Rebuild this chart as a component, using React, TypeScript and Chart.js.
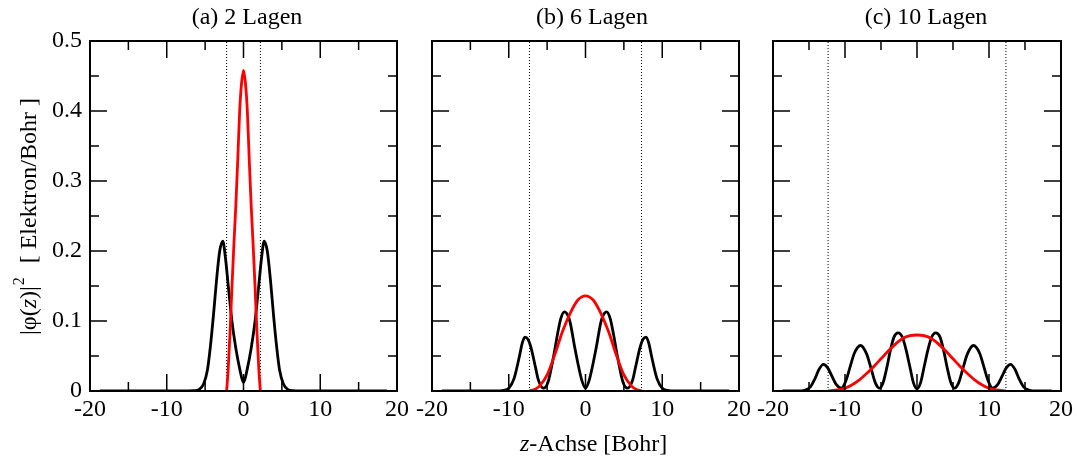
import React, { useEffect, useRef } from "react";
import { Chart, registerables } from "chart.js";

Chart.register(...registerables);

// ---------- data ----------
const xTickLabels = [-20, -10, 0, 10, 20];
const yTickLabels = [0, 0.1, 0.2, 0.3, 0.4, 0.5];
const xTickMarks = [-20, -15, -10, -5, 0, 5, 10, 15, 20];
const yTickMarks = [0, 0.05, 0.1, 0.15, 0.2, 0.25, 0.3, 0.35, 0.4, 0.45, 0.5];

const panelTitles = ["(a) 2 Lagen", "(b) 6 Lagen", "(c) 10 Lagen"];
const yAxisTitle = ["|φ(", "z", ")|", "2", "[ Elektron/Bohr ]"];
const xAxisTitle = ["z", "-Achse [Bohr]"];

// (a) 2 Lagen
const zBlackA = [-18.7, -12, -8, -6.5, -5.8, -5.2, -4.7, -4.3, -3.9, -3.5, -3.1, -2.7, -2.35, -2.0, -1.5, -1.0, -0.5, 0, 0.5, 1.0, 1.5, 2.0, 2.35, 2.7, 3.1, 3.5, 3.9, 4.3, 4.7, 5.2, 5.8, 6.5, 8, 12, 18.7];
const blackA = [0, 0, 0, 0.0005, 0.002, 0.01, 0.03, 0.065, 0.11, 0.16, 0.2, 0.214, 0.19, 0.152, 0.099, 0.061, 0.032, 0.012, 0.032, 0.061, 0.099, 0.152, 0.19, 0.214, 0.2, 0.16, 0.11, 0.065, 0.03, 0.01, 0.002, 0.0005, 0, 0, 0];
const zRedA = [-2.2, -2.0, -1.75, -1.5, -1.25, -1.0, -0.75, -0.5, -0.25, 0, 0.25, 0.5, 0.75, 1.0, 1.25, 1.5, 1.75, 2.0, 2.2];
const redA = [0, 0.03, 0.085, 0.15, 0.21, 0.265, 0.33, 0.4, 0.44, 0.458, 0.44, 0.4, 0.33, 0.265, 0.21, 0.15, 0.085, 0.03, 0];
const edgesA = [-2.2, 2.2];

// (b) 6 Lagen
const zBlackB = [-18.7, -14, -11.5, -10.7, -10.0, -9.3, -8.6, -8.25, -7.9, -7.5, -7.1, -6.5, -6.15, -5.5, -4.9, -4.2, -3.6, -3.2, -2.75, -2.35, -2.0, -1.4, -1.0, -0.5, 0, 0.5, 1.0, 1.4, 2.0, 2.35, 2.75, 3.2, 3.6, 4.2, 4.9, 5.5, 6.15, 6.5, 7.1, 7.5, 7.9, 8.25, 8.6, 9.3, 10.0, 10.7, 11.5, 14, 18.7];
const blackB = [0, 0, 0, 0.001, 0.004, 0.018, 0.05, 0.068, 0.077, 0.074, 0.062, 0.033, 0.016, 0.004, 0.012, 0.047, 0.084, 0.104, 0.113, 0.109, 0.098, 0.062, 0.04, 0.016, 0.004, 0.016, 0.04, 0.062, 0.098, 0.109, 0.113, 0.104, 0.084, 0.047, 0.012, 0.004, 0.016, 0.033, 0.062, 0.074, 0.077, 0.068, 0.05, 0.018, 0.004, 0.001, 0, 0, 0];
const zRedB = [-7.3, -6.5, -6, -5, -4, -3, -2, -1, 0, 1, 2, 3, 4, 5, 6, 6.5, 7.3];
const redB = [0, 0.003, 0.007, 0.023, 0.052, 0.085, 0.111, 0.13, 0.136, 0.13, 0.111, 0.085, 0.052, 0.023, 0.007, 0.003, 0];
const edgesB = [-7.3, 7.3];

// (c) 10 Lagen
const zBlackC = [-18.7, -16.5, -15.5, -14.8, -14.2, -13.6, -13.0, -12.4, -11.8, -11.2, -10.5, -9.9, -9.3, -8.7, -7.85, -7.0, -6.4, -5.8, -5.2, -4.7, -4.2, -3.7, -3.2, -2.6, -2.0, -1.5, -1.0, -0.5, 0, 0.5, 1.0, 1.5, 2.0, 2.6, 3.2, 3.7, 4.2, 4.7, 5.2, 5.8, 6.4, 7.0, 7.85, 8.7, 9.3, 9.9, 10.5, 11.2, 11.8, 12.4, 13.0, 13.6, 14.2, 14.8, 15.5, 16.5, 18.7];
const blackC = [0, 0, 0.0015, 0.006, 0.017, 0.031, 0.038, 0.033, 0.021, 0.009, 0.004, 0.014, 0.034, 0.054, 0.065, 0.053, 0.033, 0.012, 0.004, 0.012, 0.033, 0.058, 0.077, 0.083, 0.076, 0.058, 0.035, 0.012, 0.003, 0.012, 0.035, 0.058, 0.076, 0.083, 0.077, 0.058, 0.033, 0.012, 0.004, 0.012, 0.033, 0.053, 0.065, 0.054, 0.034, 0.014, 0.004, 0.009, 0.021, 0.033, 0.038, 0.031, 0.017, 0.006, 0.0015, 0, 0];
const zRedC = [-12.35, -11, -10, -9, -8, -7, -6, -5, -4, -3, -2, -1, 0, 1, 2, 3, 4, 5, 6, 7, 8, 9, 10, 11, 12.35];
const redC = [0, 0.0015, 0.004, 0.009, 0.016, 0.025, 0.035, 0.046, 0.057, 0.067, 0.075, 0.079, 0.08, 0.079, 0.075, 0.067, 0.057, 0.046, 0.035, 0.025, 0.016, 0.009, 0.004, 0.0015, 0];
const edgesC = [-12.35, 12.35];

// ---------- layout ----------
const W = 1077;
const H = 463;
const TOP = 41;
const BOTTOM = 391;
const FAMILY = "'Liberation Serif', 'Times New Roman', serif";

const panels = [
  { left: 90, right: 397, titleX: 247, zBlack: zBlackA, black: blackA, zRed: zRedA, red: redA, edges: edgesA },
  { left: 432, right: 739, titleX: 592, zBlack: zBlackB, black: blackB, zRed: zRedB, red: redB, edges: edgesB },
  { left: 773, right: 1063, titleX: 926, zBlack: zBlackC, black: blackC, zRed: zRedC, red: redC, edges: edgesC },
];

const toPoints = (xs: number[], ys: number[]) => xs.map((x, i) => ({ x, y: ys[i] }));

function makePlugin(idx: number) {
  return {
    id: "decor" + idx,
    afterDraw(chart: any) {
      const { ctx, chartArea: ca, scales } = chart;
      const xs = scales.x;
      const ys = scales.y;
      ctx.save();
      ctx.strokeStyle = "#000";
      ctx.lineWidth = 1.5;
      ctx.beginPath();
      for (const v of xTickMarks) {
        if (v === xTickMarks[0] || v === xTickMarks[xTickMarks.length - 1]) continue;
        const px = xs.getPixelForValue(v);
        const len = v % 10 === 0 ? 17 : 9;
        ctx.moveTo(px, ca.bottom);
        ctx.lineTo(px, ca.bottom - len);
        ctx.moveTo(px, ca.top);
        ctx.lineTo(px, ca.top + len);
      }
      for (const v of yTickMarks) {
        if (v === yTickMarks[0] || v === yTickMarks[yTickMarks.length - 1]) continue;
        const py = ys.getPixelForValue(v);
        const major = Math.abs(v * 10 - Math.round(v * 10)) < 1e-6;
        const len = major ? 17 : 9;
        ctx.moveTo(ca.left, py);
        ctx.lineTo(ca.left + len, py);
        ctx.moveTo(ca.right, py);
        ctx.lineTo(ca.right - len, py);
      }
      ctx.stroke();
      ctx.lineWidth = 2;
      ctx.strokeRect(ca.left, ca.top, ca.right - ca.left, ca.bottom - ca.top);

      // panel title
      ctx.fillStyle = "#000";
      ctx.font = `24px ${FAMILY}`;
      ctx.textAlign = "center";
      ctx.textBaseline = "alphabetic";
      ctx.fillText(panelTitles[idx], panels[idx].titleX, 24);

      if (idx === 0) {
        // rotated y axis title
        ctx.save();
        ctx.translate(36, 0);
        ctx.rotate(-Math.PI / 2);
        ctx.textAlign = "left";
        const normal = `24px ${FAMILY}`;
        const italic = `italic 24px ${FAMILY}`;
        const small = `16px ${FAMILY}`;
        let tx = -335;
        ctx.font = normal;
        ctx.fillText(yAxisTitle[0], tx, 0);
        tx += ctx.measureText(yAxisTitle[0]).width;
        ctx.font = italic;
        ctx.fillText(yAxisTitle[1], tx, 0);
        tx += ctx.measureText(yAxisTitle[1]).width;
        ctx.font = normal;
        ctx.fillText(yAxisTitle[2], tx, 0);
        tx += ctx.measureText(yAxisTitle[2]).width + 1;
        ctx.font = small;
        ctx.fillText(yAxisTitle[3], tx, -12);
        ctx.font = normal;
        const w = ctx.measureText(yAxisTitle[4]).width;
        ctx.fillText(yAxisTitle[4], -98 - w, 0);
        ctx.restore();
      }
      if (idx === 1) {
        ctx.textAlign = "left";
        let x = 520;
        ctx.font = `italic 24px ${FAMILY}`;
        ctx.fillText(xAxisTitle[0], x, 451);
        x += ctx.measureText(xAxisTitle[0]).width;
        ctx.font = `24px ${FAMILY}`;
        ctx.fillText(xAxisTitle[1], x, 451);
      }
      ctx.restore();
    },
  };
}

function makeConfig(idx: number): any {
  const p = panels[idx];
  const datasets: any[] = [
    {
      data: toPoints(p.zRed, p.red),
      borderColor: "#ff0000",
      borderWidth: 2.8,
      pointRadius: 0,
      cubicInterpolationMode: "monotone",
    },
    {
      data: toPoints(p.zBlack, p.black),
      borderColor: "#000000",
      borderWidth: 2.8,
      pointRadius: 0,
      cubicInterpolationMode: "monotone",
    },
    ...p.edges.map((e) => ({
      data: [
        { x: e, y: yTickMarks[0] },
        { x: e, y: yTickMarks[yTickMarks.length - 1] },
      ],
      borderColor: "#000000",
      borderWidth: 1,
      borderDash: [1, 2],
      pointRadius: 0,
    })),
  ];
  const leftW = p.left;
  const bottomH = H - BOTTOM;
  return {
    type: "line",
    data: { datasets },
    options: {
      animation: false,
      responsive: false,
      devicePixelRatio: 1,
      events: [],
      layout: { padding: { left: 0, right: W - p.right, top: TOP, bottom: 0 } },
      plugins: { legend: { display: false }, tooltip: { enabled: false }, title: { display: false } },
      scales: {
        x: {
          type: "linear",
          min: -20,
          max: 20,
          afterBuildTicks: (axis: any) => {
            axis.ticks = xTickLabels.map((v) => ({ value: v }));
          },
          afterFit: (axis: any) => {
            axis.height = bottomH;
          },
          grid: { display: false, drawTicks: false },
          border: { display: false },
          ticks: {
            color: "#000",
            font: { family: FAMILY, size: 24 },
            padding: 4,
            maxRotation: 0,
            autoSkip: false,
          },
        },
        y: {
          type: "linear",
          min: 0,
          max: 0.5,
          afterBuildTicks: (axis: any) => {
            axis.ticks = yTickLabels.map((v) => ({ value: v }));
          },
          afterFit: (axis: any) => {
            axis.width = leftW;
          },
          grid: { display: false, drawTicks: false },
          border: { display: false },
          ticks: {
            display: idx === 0,
            color: "#000",
            font: { family: FAMILY, size: 24 },
            padding: 8,
            autoSkip: false,
          },
        },
      },
    },
    plugins: [makePlugin(idx)],
  };
}

export default function App() {
  const r0 = useRef<HTMLCanvasElement>(null);
  const r1 = useRef<HTMLCanvasElement>(null);
  const r2 = useRef<HTMLCanvasElement>(null);

  useEffect(() => {
    const refs = [r0, r1, r2];
    const charts = refs.map((r, i) => new Chart(r.current as HTMLCanvasElement, makeConfig(i)));
    return () => charts.forEach((c) => c.destroy());
  }, []);

  const style: React.CSSProperties = { position: "absolute", left: 0, top: 0, width: W, height: H };
  return (
    <div style={{ position: "absolute", left: 0, top: 0, width: W, height: H, background: "#fff" }}>
      <canvas ref={r0} width={W} height={H} style={style} />
      <canvas ref={r1} width={W} height={H} style={style} />
      <canvas ref={r2} width={W} height={H} style={style} />
    </div>
  );
}
